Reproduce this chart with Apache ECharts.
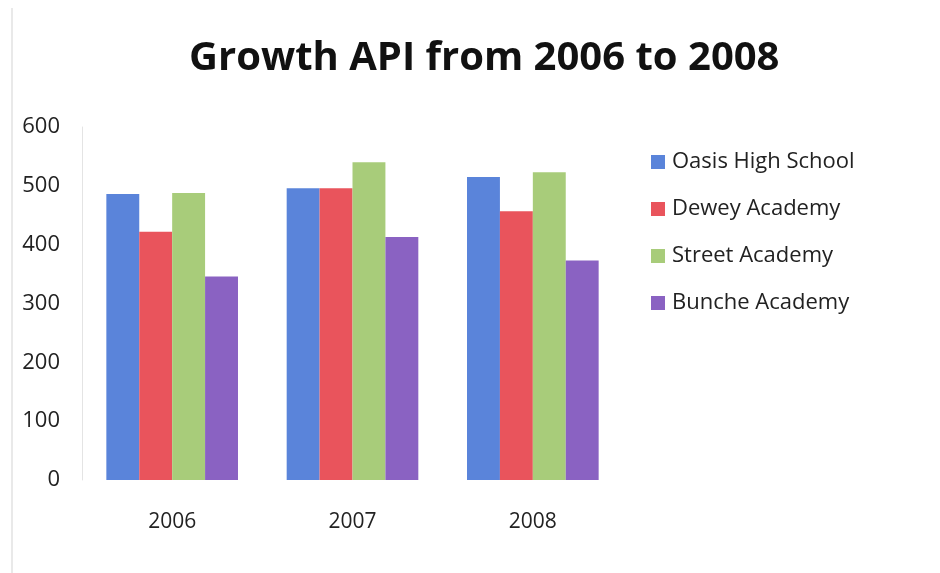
<!DOCTYPE html>
<html>
<head>
<meta charset="utf-8">
<script src="https://cdn.jsdelivr.net/npm/echarts@6/dist/echarts.min.js"></script>
<style>
  html, body { margin: 0; padding: 0; background: #fff; }
  #chart { width: 940px; height: 573px; }
</style>
</head>
<body>
<div id="chart"></div>
<script>
// Growth API scores per school, 2006-2008
const years = ['2006', '2007', '2008'];
const schools = ['Oasis High School', 'Dewey Academy', 'Street Academy', 'Bunche Academy'];
const oasis = [486, 496, 515];
const dewey = [422, 496, 457];
const street = [488, 540, 523];
const bunche = [346, 413, 373];
const yTicks = [0, 100, 200, 300, 400, 500, 600];

const seriesValues = [oasis, dewey, street, bunche];
const colors = ['#5a84da', '#e9545c', '#a8cc7a', '#8a62c2'];
const font = 'Open Sans';

const chart = echarts.init(document.getElementById('chart'));
chart.setOption({
  animation: false,
  backgroundColor: '#ffffff',
  title: {
    text: 'Growth API from 2006 to 2008',
    left: 184,
    top: 34,
    textStyle: { fontFamily: font, fontWeight: 'bold', fontSize: 40, color: '#111' }
  },
  legend: {
    orient: 'vertical',
    left: 646,
    top: 146,
    itemWidth: 14,
    itemHeight: 14,
    itemGap: 25,
    icon: 'rect',
    data: schools,
    textStyle: { fontFamily: font, fontSize: 22, color: '#222', padding: [0, 0, 0, 2] }
  },
  grid: { left: 82, right: 317, top: 127, bottom: 93 },
  xAxis: {
    type: 'category',
    data: years,
    axisLine: { show: false },
    axisTick: { show: false },
    axisLabel: { fontFamily: font, fontSize: 21, color: '#222', margin: 32 }
  },
  yAxis: {
    type: 'value',
    min: yTicks[0],
    max: yTicks[yTicks.length - 1],
    interval: 100,
    axisLine: { show: true, lineStyle: { color: '#e4e4e4' } },
    axisTick: { show: false },
    splitLine: { show: false },
    axisLabel: { fontFamily: font, fontSize: 22, color: '#222', margin: 22 }
  },
  graphic: [{
    type: 'line',
    shape: { x1: 12, y1: 8, x2: 12, y2: 573 },
    style: { stroke: '#e2e2e2', lineWidth: 1.5 }
  }],
  series: schools.map((name, i) => ({
    name: name,
    type: 'bar',
    data: seriesValues[i],
    barGap: '0%',
    barCategoryGap: '27%',
    itemStyle: { color: colors[i] }
  }))
});
</script>
</body>
</html>
